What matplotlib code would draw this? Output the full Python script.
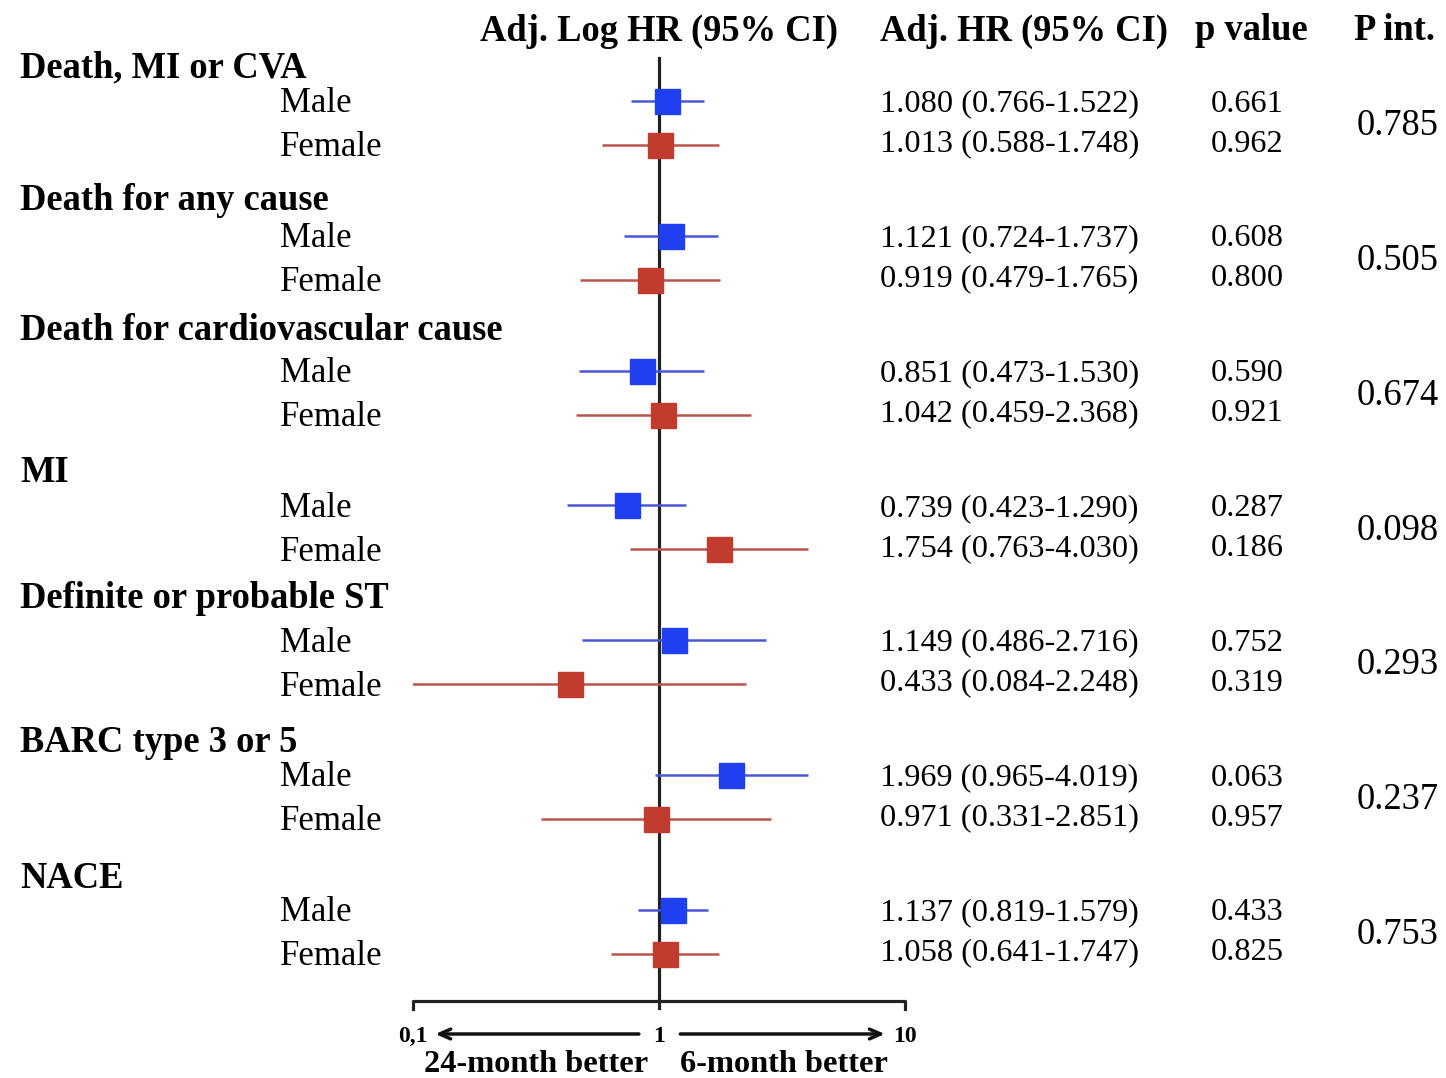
import numpy as np
import matplotlib
matplotlib.use('Agg')
import matplotlib.pyplot as plt

plt.rcParams['font.family'] = ['Liberation Serif', 'DejaVu Serif']

outcomes = ["Death, MI or CVA", "Death for any cause", "Death for cardiovascular cause",
            "MI", "Definite or probable ST", "BARC type 3 or 5", "NACE"]
male_hr = [1.080, 1.121, 0.851, 0.739, 1.149, 1.969, 1.137]
male_lo = [0.766, 0.724, 0.473, 0.423, 0.486, 0.965, 0.819]
male_hi = [1.522, 1.737, 1.530, 1.290, 2.716, 4.019, 1.579]
male_p = ["0.661", "0.608", "0.590", "0.287", "0.752", "0.063", "0.433"]
female_hr = [1.013, 0.919, 1.042, 1.754, 0.433, 0.971, 1.058]
female_lo = [0.588, 0.479, 0.459, 0.763, 0.084, 0.331, 0.641]
female_hi = [1.748, 1.765, 2.368, 4.030, 2.248, 2.851, 1.747]
female_p = ["0.962", "0.800", "0.921", "0.186", "0.319", "0.957", "0.825"]
p_int = ["0.785", "0.505", "0.674", "0.098", "0.293", "0.237", "0.753"]
xticks = [0.1, 1, 10]
xtick_labels = ["0,1", "1", "10"]

W, H = 1446, 1078
fig = plt.figure(figsize=(W / 100, H / 100), dpi=100)
fig.patch.set_facecolor('white')

# forest axes: y in pixel units (inverted) so rows line up with the text columns
ax = fig.add_axes([413 / W, 0, (905 - 413) / W, 1])
ax.set_xscale('log')
ax.set_xlim(0.1, 10)
ax.set_ylim(H, 0)
ax.axis('off')

# layout: vertical pixel position of each group header
header_y = [65, 198, 328, 469, 596, 740, 876]

def fx(px):
    return px / W

def fy(py):
    # small shift, va='center' puts the glyphs a bit high
    return 1 - (py + 3) / H

blue, blue_line = '#1f3ff0', '#4a58d6'
red, red_line = '#c23b2f', '#b9554c'
fs_txt = 23.3
fs_lab = 25
fs_bold = 26.3

# column headers
fig.text(fx(659), fy(28), "Adj. Log HR (95% CI)", ha='center', va='center',
         fontsize=fs_bold, fontweight='bold')
fig.text(fx(880), fy(28), "Adj. HR (95% CI)", ha='left', va='center',
         fontsize=fs_bold, fontweight='bold')
fig.text(fx(1251), fy(28), "p value", ha='center', va='center',
         fontsize=fs_bold, fontweight='bold')
fig.text(fx(1394), fy(28), "P int.", ha='center', va='center',
         fontsize=fs_bold, fontweight='bold')

# reference line at HR = 1
ax.plot([1, 1], [58, 1008], color='#222222', lw=2.3, clip_on=False, zorder=1)

for i, name in enumerate(outcomes):
    ym = 101 + 134.8 * i
    yf = ym + 44
    fig.text(fx(20), fy(header_y[i]), name, ha='left', va='center',
             fontsize=fs_bold, fontweight='bold')
    fig.text(fx(280), fy(ym), "Male", ha='left', va='center', fontsize=fs_lab)
    fig.text(fx(280), fy(yf), "Female", ha='left', va='center', fontsize=fs_lab)

    ax.hlines(ym, male_lo[i], male_hi[i], color=blue_line, lw=1.8, zorder=2)
    ax.plot(male_hr[i], ym, 's', ms=18, color=blue, mec=blue, zorder=3)
    ax.hlines(yf, female_lo[i], female_hi[i], color=red_line, lw=1.8, zorder=2)
    ax.plot(female_hr[i], yf, 's', ms=18, color=red, mec=red, zorder=3)

    fig.text(fx(880), fy(ym), f"{male_hr[i]:.3f} ({male_lo[i]:.3f}-{male_hi[i]:.3f})",
             ha='left', va='center', fontsize=fs_txt)
    fig.text(fx(880), fy(yf - 4), f"{female_hr[i]:.3f} ({female_lo[i]:.3f}-{female_hi[i]:.3f})",
             ha='left', va='center', fontsize=fs_txt)
    fig.text(fx(1247), fy(ym), male_p[i], ha='center', va='center', fontsize=fs_txt)
    fig.text(fx(1247), fy(yf - 4), female_p[i], ha='center', va='center', fontsize=fs_txt)
    fig.text(fx(1398), fy(ym + 22), p_int[i], ha='center', va='center', fontsize=26.3)

# bottom bracket axis
ax.plot([0.1, 0.1, 10, 10], [1009, 1001, 1001, 1009], color='#222222', lw=2.3,
        clip_on=False, solid_joinstyle='round')

for t, lab in zip(xticks, xtick_labels):
    ax.text(t, 1036, lab, ha='center', va='center', fontsize=17, fontweight='bold')

arrow = dict(arrowstyle='->,head_length=0.8,head_width=0.35', lw=2.5, color='#111111')
ax.annotate("", xy=(0.12, 1034), xytext=(0.85, 1034), arrowprops=arrow,
            annotation_clip=False)
ax.annotate("", xy=(8.5, 1034), xytext=(1.19, 1034), arrowprops=arrow,
            annotation_clip=False)

fig.text(fx(536), fy(1062), "24-month better", ha='center', va='center',
         fontsize=23.3, fontweight='bold')
fig.text(fx(784), fy(1062), "6-month better", ha='center', va='center',
         fontsize=23.3, fontweight='bold')

fig.savefig('out.png', dpi=100, facecolor='white')
